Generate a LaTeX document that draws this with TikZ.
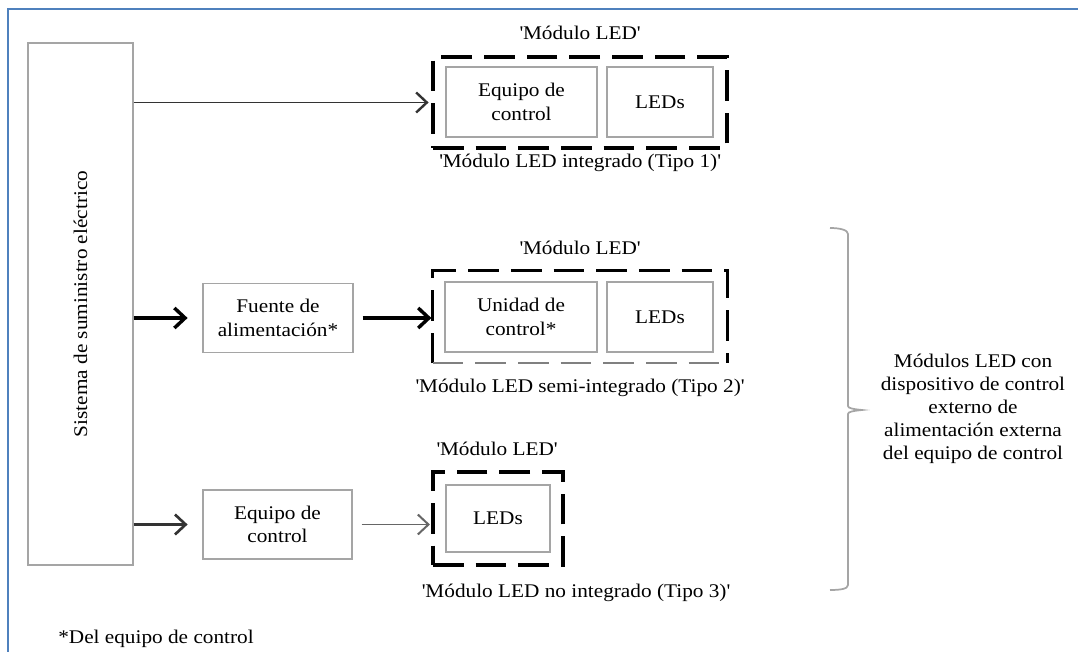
\documentclass[tikz,border=0pt]{standalone}
\usepackage{fontspec}
\usepackage{graphicx}
\setmainfont[FakeStretch=1.1]{Liberation Serif}
\usetikzlibrary{arrows.meta,calc}
\definecolor{frameblue}{RGB}{79,129,189}
\definecolor{boxgray}{RGB}{165,165,165}
\begin{document}
\begin{tikzpicture}[x=0.75pt,y=-0.75pt,
  font=\fontsize{14.5}{17.5}\selectfont,
  gbox/.style={draw=boxgray, line width=1.1pt, inner sep=0pt, align=center},
  dline/.style={draw=black, line width=2.6pt, dash pattern=on 23pt off 9pt},
  dbox/.style={dline, inner sep=0pt},
  lbl/.style={inner sep=0pt, anchor=base},
  arrthin/.style={draw=black!80, line width=1.2pt, -{Straight Barb[length=8pt,width=15pt,line width=1.8pt]}},
  arrthick/.style={draw=black, line width=2.8pt, -{Straight Barb[length=8pt,width=15pt,line width=2.6pt]}},
  arrmed/.style={draw=black!80, line width=1.8pt, -{Straight Barb[length=8pt,width=15pt,line width=2pt]}},
  arrgray/.style={draw=black!60, line width=1.1pt, -{Straight Barb[length=8pt,width=15pt,line width=1.5pt]}},
]
\useasboundingbox (0,0) rectangle (1078,652);
\draw[frameblue, line width=1.5pt] (8,652) -- (8,9) -- (1078,9);

% power supply system
\node[gbox, minimum width=78.75pt, minimum height=391.5pt] (sys) at (80.5,304)
  {\rotatebox{90}{Sistema de suministro eléctrico}};

% row 1
\node[dbox, minimum width=220.5pt, minimum height=68.25pt] (m1) at (580,102.5) {};
\node[gbox, minimum width=113.25pt, minimum height=52.5pt] (ec1) at (521.5,102) {Equipo de\\control};
\node[gbox, minimum width=79.5pt, minimum height=52.5pt] (led1) at (660,102) {LEDs};
\node[lbl] (t1) at (580,40) {\textquotesingle Módulo LED\textquotesingle};
\node[lbl] (b1) at (580,168) {\textquotesingle Módulo LED integrado (Tipo 1)\textquotesingle};

% row 2
\node[inner sep=0pt, minimum width=220.5pt, minimum height=69pt] (m2) at (580,317) {};
\draw[dline] (m2.south west) -- (m2.north west) -- (m2.north east) -- (m2.south east);
\draw[dline, draw=black!50, line width=1.8pt] (m2.south west) -- (m2.south east);
\node[gbox, minimum width=114pt, minimum height=52.5pt] (uc2) at (521,317) {Unidad de\\control*};
\node[gbox, minimum width=79.5pt, minimum height=52.5pt] (led2) at (660,317) {LEDs};
\node[lbl] (t2) at (580,255) {\textquotesingle Módulo LED\textquotesingle};
\node[lbl] (b2) at (580,392) {\textquotesingle Módulo LED semi-integrado (Tipo 2)\textquotesingle};
\node[gbox, minimum width=112.5pt, minimum height=51.75pt] (fue) at (278,318) {Fuente de\\alimentación*};

% row 3
\node[gbox, minimum width=111.75pt, minimum height=51.75pt] (ec3) at (277.5,524.5) {Equipo de\\control};
\node[dbox, minimum width=97.5pt, minimum height=69.75pt] (m3) at (498,518.5) {};
\node[gbox, minimum width=78pt, minimum height=50.25pt] (led3) at (498,518.5) {LEDs};
\node[lbl] (t3) at (497,455) {\textquotesingle Módulo LED\textquotesingle};
\node[lbl] (b3) at (576,597) {\textquotesingle Módulo LED no integrado (Tipo 3)\textquotesingle};

% connectors
\draw[arrthin, shorten >=2pt] (sys.east |- m1.west) -- (m1.west);
\draw[arrthick, shorten >=11pt] (sys.east |- fue.west) -- (fue.west);
\draw[arrthick, shorten <=6.75pt, shorten >=1pt] (fue.east) -- (fue.east -| m2.west);
\draw[arrmed, shorten >=11pt] (sys.east |- ec3.west) -- (ec3.west);
\draw[arrgray, shorten <=6.75pt, shorten >=1pt] (ec3.east) -- (ec3.east -| m3.west);

% brace
\draw[boxgray, line width=1.3pt] (830,228) .. controls (840,228) and (848,230) .. (848,234)
  -- (848,406) .. controls (848,408) and (852,409) .. (862,410)
  .. controls (852,411) and (848,412) .. (848,414)
  -- (848,585) .. controls (848,589) and (840,590) .. (830,590);
\node[align=center, inner sep=0pt, font=\fontsize{14.5}{17.25}\selectfont] (brl) at (973,409)
  {Módulos LED con\\dispositivo de control\\externo de\\alimentación externa\\del equipo de control};

% footnote
\node[inner sep=0pt, anchor=base west] (fn) at (58,643) {*Del equipo de control};
\end{tikzpicture}
\end{document}
